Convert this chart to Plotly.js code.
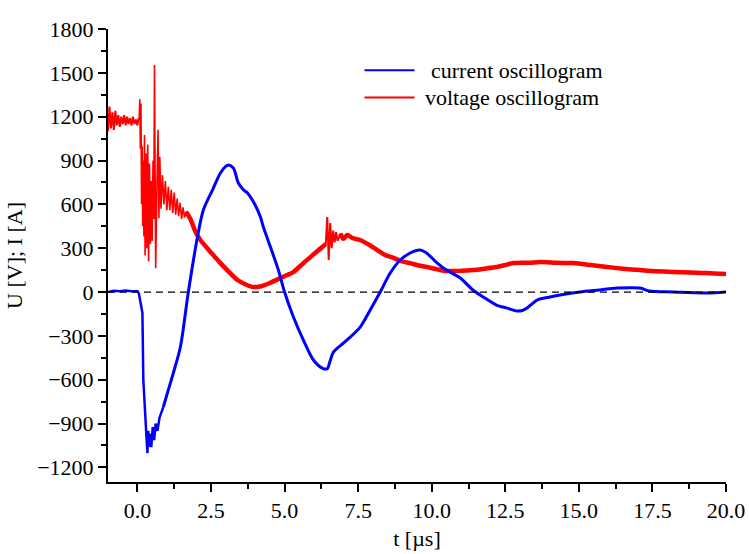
<!DOCTYPE html>
<html><head><meta charset="utf-8">
<script src="https://cdn.plot.ly/plotly-3.0.1.min.js"></script>
<style>html,body{margin:0;padding:0;background:#fff}#chart{width:749px;height:554px}</style>
</head><body><div id="chart"></div>
<script>
// current oscillogram (time in µs, value in A)
const currentT = [-1.0,-0.8,-0.6,-0.4,-0.2,0.0,0.05,0.1,0.17,0.2,0.25,0.28,0.31,0.34,0.37,0.4,0.44,0.47,0.52,0.57,0.62,0.68,0.75,0.88,1.05,1.22,1.46,1.73,2.04,2.24,2.55,2.82,3.0,3.09,3.26,3.43,3.6,3.74,4.0,4.18,4.28,4.52,4.79,5.0,5.3,5.64,5.98,6.28,6.45,6.55,6.66,7.0,7.23,7.57,7.91,8.25,8.59,8.93,9.27,9.6,9.8,10.0,10.19,10.5,10.97,11.4,11.75,12.2,12.56,12.9,13.1,13.24,13.58,14.02,14.36,15.04,15.7,16.3,17.08,17.4,18.2,19.35,20.0];
const currentV = [0,8,5,10,5,5,-10,-60,-144,-600,-830,-900,-1000,-1102,-950,-1060,-970,-1061,-924,-1013,-900,-950,-860,-787,-670,-554,-376,0,376,561,698,814,860,869,849,746,700,678,596,513,445,308,150,0,-171,-329,-465,-520,-525,-470,-411,-349,-308,-240,-123,0,130,219,267,287,270,235,198,150,96,14,-34,-89,-110,-130,-125,-110,-55,-34,-21,0,14,27,27,7,0,-7,0];

// voltage oscillogram (time in µs, value in V)
const voltageT = [-1.0,-0.95,-0.9,-0.85,-0.8,-0.75,-0.7,-0.65,-0.6,-0.55,-0.5,-0.45,-0.4,-0.35,-0.3,-0.25,-0.2,-0.15,-0.1,-0.05,0.0,0.04,
  0.06,0.08,0.10,0.12,0.14,0.16,0.18,0.20,0.22,0.24,0.26,0.29,0.32,0.35,0.38,0.41,0.44,0.47,0.50,0.53,0.555,0.58,0.62,0.66,0.70,0.73,0.76,0.80,0.85,0.90,0.95,1.00,1.05,1.10,1.15,1.20,1.25,1.30,1.35,1.40,1.45,1.50,1.55,1.60,1.65,
  1.8,2.0,2.14,2.5,2.82,3.1,3.4,3.7,3.94,4.2,4.5,4.8,5.09,5.3,5.64,6.0,6.28,6.4,6.45,6.5,6.55,6.6,6.65,6.7,6.75,6.8,6.9,7.0,7.13,7.3,7.57,7.9,8.15,8.4,8.7,9.0,9.27,9.6,9.85,10.2,10.5,11.0,11.4,11.8,12.2,12.5,12.77,13.3,13.7,14.26,14.8,15.4,15.96,16.5,17.08,17.6,18.2,18.8,19.35,20.0];
const voltageV = [1100,1270,1120,1230,1110,1240,1140,1210,1130,1200,1150,1210,1140,1200,1150,1190,1140,1200,1150,1180,1140,1190,
  1180,1320,980,1290,600,1000,450,900,380,1075,250,950,300,1010,210,880,330,760,350,900,500,1554,162,700,1110,505,925,570,800,600,760,560,720,560,700,540,680,530,640,520,610,500,580,510,550,
  500,400,356,270,198,140,82,50,34,40,62,90,116,137,198,260,308,330,513,219,472,300,420,340,410,350,400,365,390,370,356,320,287,255,233,210,198,180,171,155,144,145,150,160,171,185,198,200,205,200,198,185,171,160,150,143,137,133,130,123];

const xTickStart = 0, xTickStep = 2.5, yTickStep = 300;
const legendNames = ['current oscillogram', 'voltage oscillogram'];

function seg(T, V, a, b) {
  const x = [], y = [];
  for (let i = 0; i < T.length; i++) if (T[i] >= a && T[i] <= b) { x.push(T[i]); y.push(V[i]); }
  return {x, y};
}
const RED = '#ff0000', BLUE = '#0000ff';
const c1 = seg(currentT, currentV, -1, 0.9);
const c2 = seg(currentT, currentV, 0.88, 20);
const v1 = seg(voltageT, voltageV, -1, 0.06);
const v2 = seg(voltageT, voltageV, 0.04, 1.8);
const v3 = seg(voltageT, voltageV, 1.65, 6.4);
const v4 = seg(voltageT, voltageV, 6.28, 7.13);
const v5 = seg(voltageT, voltageV, 6.9, 20);
function tr(s, color, width, shape) {
  return {x: s.x, y: s.y, mode: 'lines', line: {color, width, shape: shape || 'linear', smoothing: 0.8}, showlegend: false, hoverinfo: 'skip'};
}
const traces = [
  tr(v1, RED, 2), tr(v2, RED, 1.6), tr(v3, RED, 4.5, 'spline'), tr(v5, RED, 4.5, 'spline'), tr(v4, RED, 2),
  tr(c1, BLUE, 2.5), tr(c2, BLUE, 3, 'spline')
];
const F = 'Liberation Serif, Times New Roman, serif';
const layout = {
  width: 749, height: 554,
  margin: {l: 108, r: 23, t: 29, b: 72},
  paper_bgcolor: '#fff', plot_bgcolor: '#fff',
  font: {family: F, size: 22, color: '#000'},
  showlegend: false,
  xaxis: {
    range: [-1, 20], tick0: xTickStart, dtick: xTickStep, tickformat: '.1f',
    showgrid: false, zeroline: false, showline: true, linecolor: '#000', linewidth: 2,
    ticks: 'outside', ticklen: 8, tickwidth: 2, tickcolor: '#000',
    minor: {dtick: xTickStep / 2, ticks: 'outside', ticklen: 5, tickwidth: 2, tickcolor: '#000'},
    title: {text: 't [µs]', font: {family: F, size: 22}, standoff: 8},
    tickfont: {family: F, size: 22}
  },
  yaxis: {
    range: [-1300, 1800], tick0: 0, dtick: yTickStep,
    showgrid: false, zeroline: false, showline: true, linecolor: '#000', linewidth: 2,
    ticks: 'outside', ticklen: 8, tickwidth: 2, tickcolor: '#000',
    minor: {dtick: yTickStep / 2, ticks: 'outside', ticklen: 5, tickwidth: 2, tickcolor: '#000'},
    title: {text: 'U [V]; I [A]', font: {family: F, size: 22}, standoff: 8},
    tickfont: {family: F, size: 22}
  },
  shapes: [
    {type: 'line', xref: 'x', yref: 'y', x0: -1, x1: 20, y0: 0, y1: 0, layer: 'above', line: {color: '#000', width: 1.3, dash: '7px,5px'}},
    {type: 'line', xref: 'paper', yref: 'paper', x0: 0.415, x1: 0.496, y0: 0.909, y1: 0.909, line: {color: BLUE, width: 2}},
    {type: 'line', xref: 'paper', yref: 'paper', x0: 0.415, x1: 0.496, y0: 0.849, y1: 0.849, line: {color: RED, width: 2}}
  ],
  annotations: [
    {xref: 'paper', yref: 'paper', x: 0.519, y: 0.909, xanchor: 'left', yanchor: 'middle', text: legendNames[0], showarrow: false, font: {family: F, size: 22}},
    {xref: 'paper', yref: 'paper', x: 0.509, y: 0.849, xanchor: 'left', yanchor: 'middle', text: legendNames[1], showarrow: false, font: {family: F, size: 22}}
  ]
};
Plotly.newPlot('chart', traces, layout, {displayModeBar: false, staticPlot: true});
</script></body></html>
